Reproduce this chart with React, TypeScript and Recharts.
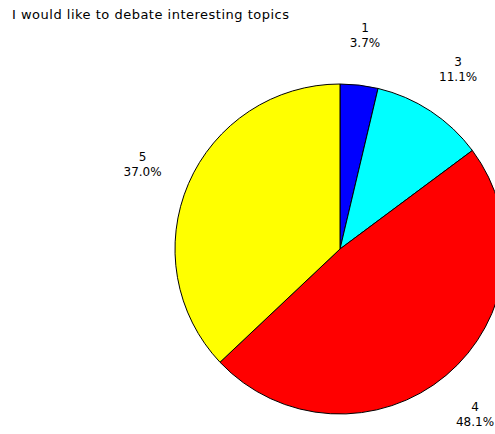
import { PieChart, Pie, Cell } from "recharts";

const categories = ["1", "3", "4", "5"];
const shares = [3.7, 11.1, 48.1, 37.0];
const colors = ["#0000ff", "#00ffff", "#ff0000", "#ffff00"];

const title = "I would like to debate interesting topics";

const data = categories.map((name, i) => ({ name, value: shares[i] }));

const RADIAN = Math.PI / 180;

function renderLabel(props: any) {
  const { cx, cy, midAngle, index } = props;
  const r = 215;
  // keep labels inside the frame, as the original does
  const x = Math.min(cx + r * Math.cos(-midAngle * RADIAN), 475);
  const y = cy + r * Math.sin(-midAngle * RADIAN);
  return (
    <text
      x={x}
      y={y}
      textAnchor="middle"
      fontFamily="DejaVu Sans, sans-serif"
      fontSize={12}
      fill="#000"
    >
      <tspan x={x} dy={-3}>{categories[index]}</tspan>
      <tspan x={x} dy={15}>{shares[index].toFixed(1)}%</tspan>
    </text>
  );
}

export default function App() {
  return (
    <div
      style={{
        position: "absolute",
        left: 0,
        top: 0,
        width: 495,
        height: 434,
        background: "#fff",
        overflow: "hidden",
      }}
    >
      <div
        style={{
          position: "absolute",
          left: 12,
          top: 7,
          fontFamily: "DejaVu Sans, sans-serif",
          fontSize: 13,
          letterSpacing: 0.5,
          color: "#000",
          whiteSpace: "nowrap",
        }}
      >
        {title}
      </div>
      <PieChart width={495} height={434} margin={{ top: 0, right: 0, bottom: 0, left: 0 }}>
        <Pie
          data={data}
          dataKey="value"
          cx={340}
          cy={249}
          outerRadius={165}
          startAngle={90}
          endAngle={-270}
          stroke="#000"
          strokeWidth={1}
          label={renderLabel}
          labelLine={false}
          isAnimationActive={false}
        >
          {data.map((d, i) => (
            <Cell key={d.name} fill={colors[i]} />
          ))}
        </Pie>
      </PieChart>
    </div>
  );
}
